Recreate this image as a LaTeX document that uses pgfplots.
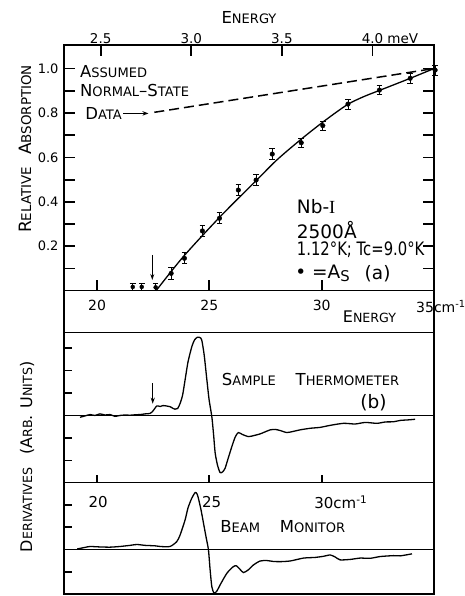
\documentclass[border=0pt]{standalone}
\usepackage{fontspec}
\setmainfont{DejaVu Sans}
\newfontfamily\serif{Liberation Serif}
\usepackage{graphicx}
\usepackage{pgfplots}
\usepackage{pgfplotstable}
\pgfplotsset{compat=1.18}
\usetikzlibrary{arrows.meta}
\newcommand{\SC}[2]{#1\scalebox{0.79}{#2}}
\newcommand{\lab}{\fontsize{16}{18}\selectfont}
\newcommand{\bigfont}{\fontsize{18.5}{20}\selectfont}

\pgfplotstableread{
x y e
23.30 0.078 0.027
23.89 0.146 0.025
24.69 0.269 0.025
25.45 0.326 0.025
26.29 0.453 0.025
27.08 0.498 0.025
27.80 0.615 0.025
29.09 0.666 0.020
30.05 0.743 0.020
31.17 0.840 0.022
32.57 0.903 0.020
33.94 0.956 0.022
35.05 0.993 0.022
}\ptsA

\pgfplotstableread{
x y e
21.59 0.017 0.016
21.99 0.017 0.016
22.61 0.015 0.016
}\ptsZero

\pgfplotstableread{
x y
19.24 -0.08
19.47 -0.02
19.69 0.04
19.91 0.00
20.13 0.07
20.36 0.02
20.58 0.04
20.80 -0.04
21.02 0.00
21.25 0.02
21.47 0.01
21.69 0.03
21.92 0.04
22.14 0.07
22.36 0.09
22.49 0.20
22.66 0.42
22.81 0.40
22.94 0.44
23.10 0.42
23.25 0.39
23.39 0.31
23.47 0.28
23.59 0.31
23.70 0.54
23.81 0.91
23.92 1.58
24.05 2.38
24.22 3.06
24.34 3.36
24.47 3.48
24.57 3.47
24.66 3.36
24.77 2.69
24.89 1.58
24.99 0.69
25.11 -0.05
25.19 -0.87
25.26 -1.68
25.37 -2.24
25.48 -2.54
25.59 -2.51
25.70 -2.35
25.83 -1.93
26.00 -1.39
26.15 -0.96
26.29 -0.76
26.46 -0.84
26.74 -0.94
27.00 -0.89
27.26 -0.82
27.48 -0.73
27.71 -0.64
27.93 -0.62
28.15 -0.67
28.45 -0.76
28.73 -0.71
29.04 -0.64
29.49 -0.57
29.93 -0.53
30.38 -0.44
30.97 -0.35
31.49 -0.38
31.94 -0.31
32.46 -0.35
32.83 -0.29
33.20 -0.28
33.50 -0.22
33.81 -0.20
34.16 -0.17
}\sampleT

\pgfplotstableread{
x y
19.12 0.02
19.47 0.09
19.69 0.13
20.13 0.11
20.58 0.10
21.02 0.13
21.47 0.18
21.77 0.22
22.14 0.18
22.58 0.16
22.81 0.13
23.25 0.13
23.55 0.35
23.70 0.65
23.92 1.32
24.05 1.86
24.22 2.30
24.37 2.55
24.45 2.49
24.51 2.30
24.63 1.77
24.74 1.17
24.86 0.52
24.96 -0.02
25.03 -0.87
25.11 -1.67
25.21 -1.96
25.34 -1.86
25.48 -1.59
25.78 -1.07
26.07 -0.77
26.21 -0.74
26.37 -0.90
26.52 -1.04
26.73 -0.92
26.96 -0.70
27.26 -0.52
27.56 -0.50
27.84 -0.54
28.15 -0.55
28.60 -0.52
29.19 -0.39
29.71 -0.36
30.08 -0.31
30.38 -0.25
30.60 -0.34
30.82 -0.47
31.27 -0.45
31.71 -0.39
32.16 -0.40
32.61 -0.32
33.20 -0.28
33.50 -0.29
34.02 -0.20
}\beamM

\pgfplotsset{
  panel/.style={scale only axis, width=370pt, xmin=18.53, xmax=35,
    axis line style={line width=1.3pt},
    tick style={line width=1.8pt, black},
    tick align=inside, clip=false,
    xticklabel style={font=\fontsize{14}{15}\selectfont},
    yticklabel style={font=\fontsize{13}{14}\selectfont}},
}

\begin{document}
\begin{tikzpicture}
\useasboundingbox (0pt,0pt) rectangle (464pt,596pt);

% ---------------- panel (a) ----------------
\begin{axis}[panel, name=A, at={(64pt,305.3pt)}, anchor=south west, height=245.7pt,
  ymin=0, ymax=1.106, major tick length=11pt,
  xtick={20,25,30,35}, xticklabels={20,25,30,{\llap{35}\rlap{cm\textsuperscript{-1}}}},
  xtick pos=bottom, xticklabel style={yshift=-6pt},
  ytick={0.1,0.2,0.3,0.4,0.5,0.6,0.7,0.8,0.9,1.0},
  yticklabels={,0.2,,0.4,,0.6,,0.8,,1.0}, ytick pos=both, yticklabel pos=left,
  yticklabel style={xshift=-2pt}]
\addplot[black, line width=1.3pt, smooth, tension=0.5] coordinates {
 (22.63,0) (23.84,0.153) (25.48,0.333) (27.11,0.498) (28.00,0.588) (29.04,0.678)
 (30.08,0.761) (31.12,0.836) (31.86,0.873) (32.61,0.903) (33.94,0.956) (35.0,1.0)};
\addplot[black, line width=1.5pt, dash pattern=on 10pt off 5pt] coordinates {
 (22.55,0.803) (35.0,1.0)};
\addplot[black, only marks, mark=*, mark size=2.3pt,
  error bars/.cd, y dir=both, y explicit,
  error bar style={line width=0.9pt},
  error mark options={rotate=90, mark size=2.8pt, line width=0.9pt}]
  table[x=x, y=y, y error=e] {\ptsA};
\addplot[black, only marks, mark=none,
  error bars/.cd, y dir=both, y explicit,
  error bar style={line width=0.9pt},
  error mark options={rotate=90, mark size=2.8pt, line width=0.9pt}]
  table[x=x, y=y, y error=e] {\ptsZero};
\draw[line width=1pt, -{Stealth[length=6pt,width=4pt]}] (axis cs:22.46,0.161) -- (axis cs:22.46,0.048);
\node[anchor=west, font=\fontsize{16.5}{18}\selectfont, inner sep=0pt] at (axis cs:19.24,0.986) {\SC{A}{SSUMED}};
\node[anchor=west, font=\fontsize{16.5}{18}\selectfont, inner sep=0pt] at (axis cs:19.24,0.899) {\SC{N}{ORMAL}--\SC{S}{TATE}};
\node[anchor=west, font=\fontsize{16.5}{18}\selectfont, inner sep=0pt] at (axis cs:19.47,0.798) {\SC{D}{ATA}};
\draw[line width=1pt, -{Stealth[open,length=6pt,width=4.5pt]}] (axis cs:21.17,0.798) -- (axis cs:22.29,0.798);
\node[anchor=west, font=\bigfont, inner sep=0pt] at (axis cs:28.89,0.378) {Nb-{\serif I}};
\node[anchor=west, font=\bigfont, inner sep=0pt] at (axis cs:28.89,0.273) {2500Å};
\node[anchor=west, font=\bigfont, inner sep=0pt] at (axis cs:28.89,0.183) {\scalebox{0.8}[1]{1.12°K; Tc=9.0°K}};
\node[anchor=west, font=\bigfont, inner sep=0pt] at (axis cs:28.82,0.078) {• =A\raisebox{-0.35ex}{\scalebox{0.8}{S}}};
\node[font=\bigfont, inner sep=0pt] at (axis cs:32.49,0.078) {(a)};
\end{axis}

% meV axis on top
\begin{axis}[scale only axis, at={(64pt,305.3pt)}, anchor=south west, width=370pt, height=245.7pt,
  xmin=2.2975, xmax=4.3395, ymin=0, ymax=1,
  axis y line=none, axis x line*=top,
  axis line style={line width=1.3pt}, tick style={line width=1.8pt, black},
  tick align=inside, major tick length=11pt,
  xtick={2.5,3,3.5,4}, xticklabels={2.5,3.0,3.5,{4.0\rlap{ meV}}},
  xticklabel style={font=\fontsize{13.5}{14}\selectfont, inner sep=1pt},
  xlabel={\SC{E}{NERGY}}, xlabel style={font=\fontsize{16.5}{18}\selectfont, inner sep=0pt, yshift=9pt}]
\addplot[draw=none] coordinates {(3,0.5)};
\end{axis}

\node[rotate=90, font=\fontsize{17}{18}\selectfont] at (25pt,447pt) {\SC{R}{ELATIVE}\hspace{0.7em}\SC{A}{BSORPTION}};

% band between panels
\draw[line width=1.3pt] (64pt,305.3pt) -- (64pt,263.3pt);
\draw[line width=1.3pt] (434pt,305.3pt) -- (434pt,263.3pt);
\node[anchor=west, font=\lab, inner sep=0pt] at (342.7pt,279.3pt) {\SC{E}{NERGY}};

% ---------------- panel (b) ----------------
\begin{axis}[panel, name=B, at={(64pt,113.3pt)}, anchor=south west, height=150pt,
  ymin=-2.99, ymax=3.68, major tick length=8pt,
  xtick={20,25,30}, xticklabels={}, xtick pos=bottom,
  ytick={-2,-1,1,2,3}, yticklabels={}, ytick pos=left]
\addplot[black, line width=1.1pt] coordinates {(18.53,0) (35,0)};
\addplot[black, line width=1.3pt, smooth, tension=0.4] table[x=x,y=y] {\sampleT};
\draw[line width=1pt, -{Stealth[length=6pt,width=4pt]}] (axis cs:22.48,1.44) -- (axis cs:22.48,0.52);
\node[anchor=west, font=\fontsize{16.5}{18}\selectfont, inner sep=0pt] at (axis cs:25.55,1.61) {\SC{S}{AMPLE}\hspace{1.2em}\SC{T}{HERMOMETER}};
\node[font=\bigfont, inner sep=0pt] at (axis cs:32.31,0.57) {(b)};
\end{axis}

% ---------------- panel (c) ----------------
\begin{axis}[panel, name=C, at={(64pt,2pt)}, anchor=south west, height=111.3pt,
  ymin=-2.0, ymax=2.99, major tick length=8pt,
  xtick=\empty,
  ytick={-1,1,2}, yticklabels={}, ytick pos=left]
\addplot[black, line width=1.1pt] coordinates {(18.53,0) (35,0)};
\addplot[black, line width=1.3pt, smooth, tension=0.4] table[x=x,y=y] {\beamM};
\node[font=\fontsize{15}{16}\selectfont, inner sep=0pt] at (axis cs:20.05,2.12) {20};
\node[font=\fontsize{15}{16}\selectfont, inner sep=0pt] at (axis cs:25.1,2.12) {25};
\node[font=\fontsize{15}{16}\selectfont, inner sep=0pt] at (axis cs:30.1,2.12) {30\rlap{cm\textsuperscript{-1}}};
\node[anchor=west, font=\fontsize{16.5}{18}\selectfont, inner sep=0pt] at (axis cs:25.48,1.02) {\SC{B}{EAM}\hspace{1.2em}\SC{M}{ONITOR}};
\end{axis}

\node[rotate=90, font=\fontsize{16}{18}\selectfont] at (27pt,139.3pt) {\SC{D}{ERIVATIVES}\hspace{0.8em}(\SC{A}{RB}. \SC{U}{NITS})};
\end{tikzpicture}
\end{document}
